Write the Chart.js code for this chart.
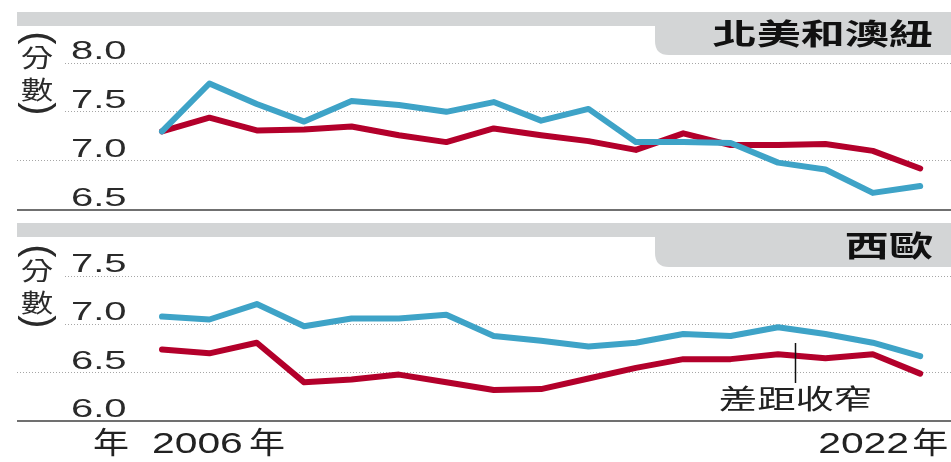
<!DOCTYPE html>
<html><head><meta charset="utf-8">
<script src="https://cdn.jsdelivr.net/npm/chart.js@4.4.0/dist/chart.umd.min.js"></script>
<style>
html,body{margin:0;padding:0;background:#fff;}
#wrap{position:relative;width:951px;height:462px;overflow:hidden;background:#fff;}
.p{position:absolute;left:0;width:951px;}
</style></head><body>
<div id="wrap">
<div class="p" style="top:0;height:220px"><canvas id="c1" width="951" height="220"></canvas></div>
<div class="p" style="top:220px;height:242px"><canvas id="c2" width="951" height="242"></canvas></div>
</div>
<script>
// ---- data ----
const years = [2006,2007,2008,2009,2010,2011,2012,2013,2014,2015,2016,2017,2018,2019,2020,2021,2022];
const naBlue = [7.30,7.79,7.58,7.40,7.61,7.57,7.50,7.60,7.41,7.53,7.19,7.19,7.18,6.98,6.91,6.67,6.74];
const naRed  = [7.30,7.44,7.31,7.32,7.35,7.26,7.19,7.33,7.26,7.20,7.11,7.28,7.16,7.16,7.17,7.10,6.92];
const weBlue = [7.08,7.05,7.21,6.98,7.06,7.06,7.10,6.88,6.83,6.77,6.81,6.90,6.88,6.97,6.90,6.81,6.67];
const weRed  = [6.74,6.70,6.81,6.40,6.43,6.48,6.40,6.32,6.33,6.44,6.55,6.64,6.64,6.69,6.65,6.69,6.49];
const naTicks = [6.5,7.0,7.5,8.0];
const weTicks = [6.0,6.5,7.0,7.5];
const naTitle = '北美和澳紐';
const weTitle = '西歐';
const unitChars = ['分','數'];
const unitOpen = '(';
const unitClose = ')';
const startLabel = '2006';
const endLabel = '2022';
const yearChar = '年';
const noteText = '差距收窄';
const noteYear = 2019.36;

const BLUE = '#3ea3c7';
const RED = '#b3002b';
const BAR = '#d3d5d6';
const TXT = '#242424';
const CJK = "'Noto Sans CJK TC','Noto Sans CJK SC',sans-serif";
const LAT = "'Liberation Sans',Arial,sans-serif";

function txt(ctx, s, x, y, font, sx, align, color, base, rot) {
  ctx.save();
  ctx.translate(x, y);
  if (rot) ctx.rotate(rot);
  ctx.scale(sx, 1);
  ctx.font = font;
  ctx.fillStyle = color || TXT;
  ctx.textAlign = align || 'left';
  ctx.textBaseline = base || 'alphabetic';
  ctx.fillText(s, 0, 0);
  ctx.restore();
}

function panelPlugin(o) {
  return {
    id: 'panel' + o.id,
    beforeDraw(chart) {
      const ctx = chart.ctx;
      ctx.save();
      ctx.fillStyle = '#fff';
      ctx.fillRect(0, 0, chart.width, chart.height);
      ctx.fillStyle = BAR;
      ctx.fillRect(17, o.barTop, chart.width - 17, o.barBot - o.barTop);
      const r = 14, tx = 655;
      ctx.beginPath();
      ctx.moveTo(tx, o.barBot - 1);
      ctx.lineTo(tx, o.tabBot - r);
      ctx.quadraticCurveTo(tx, o.tabBot, tx + r, o.tabBot);
      ctx.lineTo(chart.width, o.tabBot);
      ctx.lineTo(chart.width, o.barBot - 1);
      ctx.closePath();
      ctx.fill();
      ctx.restore();
    },
    beforeDatasetsDraw(chart) {
      const ctx = chart.ctx, ys = chart.scales.y;
      const t = o.ticks;
      ctx.save();
      ctx.fillStyle = '#fff';
      const yTop = ys.getPixelForValue(t[t.length - 1]);
      const y2 = ys.getPixelForValue(t[t.length - 2]);
      ctx.fillRect(15, yTop - 3, 50, y2 - yTop + 6);
      ctx.restore();
    },
    afterDraw(chart) {
      const ctx = chart.ctx, ys = chart.scales.y;
      const ca = chart.chartArea;
      ctx.save();
      ctx.strokeStyle = '#707070';
      ctx.lineWidth = 2;
      ctx.beginPath();
      ctx.moveTo(17, Math.round(ca.bottom));
      ctx.lineTo(chart.width, Math.round(ca.bottom));
      ctx.stroke();
      ctx.restore();
      o.ticks.forEach(v => {
        txt(ctx, v.toFixed(1), 71, ys.getPixelForValue(v) - 4, '25px ' + LAT, 1.6, 'left', '#2a2a2a');
      });
      const gTop = ys.getPixelForValue(o.ticks[o.ticks.length - 1]);
      txt(ctx, unitOpen, 37, gTop - 25, '40px ' + LAT, 1, 'center', '#2a2a2a', 'middle', Math.PI / 2);
      txt(ctx, unitChars[0], 37, gTop - 6, '25px ' + CJK, 1.3, 'center', '#2a2a2a', 'middle');
      txt(ctx, unitChars[1], 37, gTop + 26, '25px ' + CJK, 1.3, 'center', '#2a2a2a', 'middle');
      txt(ctx, unitClose, 37, gTop + 46, '40px ' + LAT, 1, 'center', '#2a2a2a', 'middle', Math.PI / 2);
      txt(ctx, o.title, 933, o.titleY, 'bold 29px ' + CJK, 1.52, 'right', '#111', 'middle');
      if (o.extra) o.extra(chart);
    }
  };
}

function makePanel(id, h, o) {
  const mk = (vals) => years.map((y, i) => ({x: y, y: vals[i]}));
  return new Chart(document.getElementById(id), {
    type: 'line',
    data: {
      datasets: [
        {data: mk(o.blue), borderColor: BLUE, borderWidth: 6, pointRadius: 0, tension: 0, borderJoinStyle: 'round', borderCapStyle: 'round', fill: false},
        {data: mk(o.red), borderColor: RED, borderWidth: 6, pointRadius: 0, tension: 0, borderJoinStyle: 'round', borderCapStyle: 'round', fill: false}
      ]
    },
    options: {
      responsive: false,
      animation: false,
      events: [],
      layout: {padding: {left: 17, right: 0, top: o.top, bottom: h - o.bottom}},
      plugins: {legend: {display: false}, tooltip: {enabled: false}},
      scales: {
        x: {type: 'linear', min: 2002.94, max: 2022.65, display: false},
        y: {
          min: o.ticks[0], max: o.ticks[o.ticks.length - 1],
          afterBuildTicks: s => { s.ticks = o.ticks.map(v => ({value: v})); },
          afterFit: s => { s.width = 0; },
          ticks: {display: false},
          grid: {color: '#a6a6a6', lineWidth: 1, drawTicks: false},
          border: {display: false, dash: [1, 2]}
        }
      }
    },
    plugins: [panelPlugin(o)]
  });
}

makePanel('c1', 220, {
  id: 1, blue: naBlue, red: naRed, ticks: naTicks, title: naTitle,
  top: 63, bottom: 209.5, barTop: 12, barBot: 26, tabBot: 55, titleY: 34
});

makePanel('c2', 242, {
  id: 2, blue: weBlue, red: weRed, ticks: weTicks, title: weTitle,
  top: 56, bottom: 201, barTop: 3, barBot: 17, tabBot: 47, titleY: 26,
  extra(chart) {
    const ctx = chart.ctx, xs = chart.scales.x;
    const nx = Math.round(xs.getPixelForValue(noteYear)) + 0.5;
    ctx.save();
    ctx.strokeStyle = '#111';
    ctx.lineWidth = 1.5;
    ctx.beginPath();
    ctx.moveTo(nx, 123);
    ctx.lineTo(nx, 163);
    ctx.stroke();
    ctx.restore();
    txt(ctx, noteText, nx, 179, '27px ' + CJK, 1.42, 'center', '#222', 'middle');
    const x0 = xs.getPixelForValue(years[0]);
    const x1 = xs.getPixelForValue(years[years.length - 1]);
    txt(ctx, yearChar, x0 - 51, 222, '30px ' + CJK, 1.2, 'center', '#222', 'middle');
    txt(ctx, startLabel, x0 - 10, 233, '30px ' + LAT, 1.36, 'left', '#222');
    txt(ctx, yearChar, x0 + 105, 222, '30px ' + CJK, 1.2, 'center', '#222', 'middle');
    txt(ctx, endLabel, x1 - 102, 233, '30px ' + LAT, 1.36, 'left', '#222');
    txt(ctx, yearChar, x1 + 10, 222, '30px ' + CJK, 1.2, 'center', '#222', 'middle');
  }
});
</script>
</body></html>
